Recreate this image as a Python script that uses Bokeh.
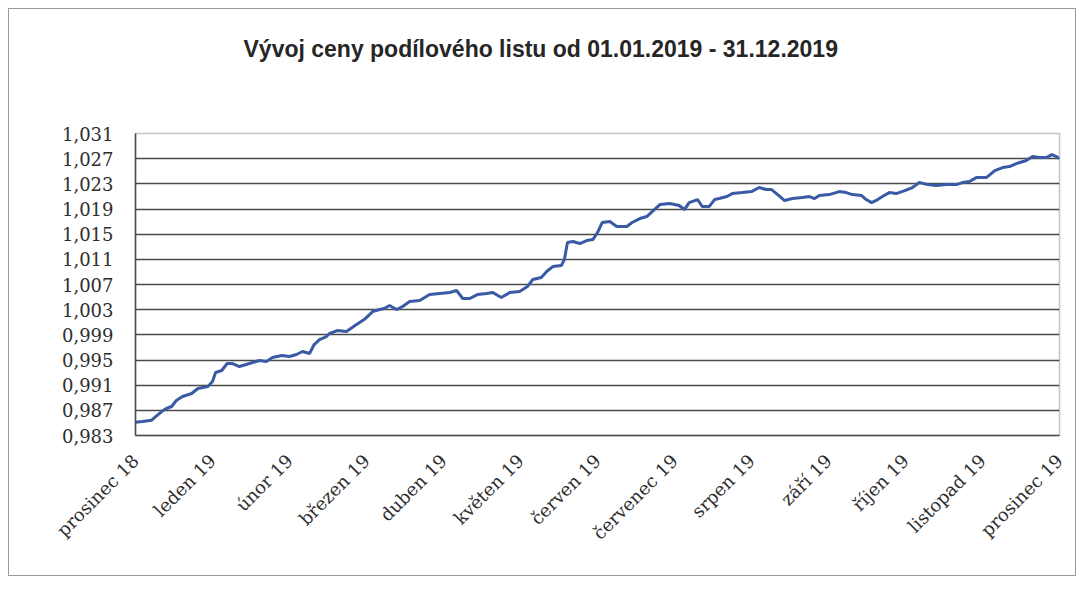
import math
from bokeh.plotting import figure
from bokeh.models import Range1d, FixedTicker, CustomJSTickFormatter, Title
from bokeh.embed import file_html
from bokeh.resources import INLINE

title_text = "Vývoj ceny podílového listu od 01.01.2019  - 31.12.2019"

month_labels = ["prosinec 18", "leden 19", "únor 19", "březen 19", "duben 19",
                "květen 19", "červen 19", "červenec 19", "srpen 19", "září 19",
                "říjen 19", "listopad 19", "prosinec 19"]

y_ticks = [0.983, 0.987, 0.991, 0.995, 0.999, 1.003, 1.007, 1.011,
           1.015, 1.019, 1.023, 1.027, 1.031]

# position along the axis, in months from "prosinec 18"
t = [0.00, 0.09, 0.21, 0.27, 0.34, 0.40, 0.47, 0.53, 0.61, 0.73,
     0.81, 0.94, 1.00, 1.04, 1.12, 1.19, 1.26, 1.35, 1.48, 1.61,
     1.70, 1.78, 1.90, 2.00, 2.09, 2.17, 2.26, 2.32, 2.39, 2.48,
     2.52, 2.62, 2.74, 2.87, 2.97, 3.08, 3.17, 3.23, 3.30, 3.39,
     3.47, 3.56, 3.69, 3.82, 3.95, 4.08, 4.17, 4.25, 4.34, 4.44,
     4.56, 4.64, 4.75, 4.86, 4.99, 5.09, 5.16, 5.27, 5.34, 5.42,
     5.53, 5.57, 5.61, 5.68, 5.77, 5.86, 5.94, 6.00, 6.06, 6.16,
     6.25, 6.38, 6.45, 6.55, 6.64, 6.71, 6.81, 6.94, 7.06, 7.13,
     7.19, 7.30, 7.36, 7.45, 7.52, 7.58, 7.68, 7.75, 7.88, 8.00,
     8.10, 8.19, 8.26, 8.34, 8.43, 8.53, 8.66, 8.75, 8.82, 8.88,
     9.01, 9.14, 9.23, 9.31, 9.43, 9.49, 9.56, 9.64, 9.70, 9.79,
     9.88, 9.99, 10.09, 10.18, 10.29, 10.40, 10.53, 10.66, 10.74, 10.83,
     10.92, 11.05, 11.16, 11.26, 11.35, 11.44, 11.57, 11.65, 11.74, 11.83,
     11.90, 11.96, 12.00]

price = [0.98511, 0.98522, 0.98543, 0.98607, 0.98681, 0.98729, 0.98761, 0.98856, 0.98920, 0.98967,
         0.99047, 0.99079, 0.99158, 0.99301, 0.99333, 0.99444, 0.99444, 0.99396, 0.99444, 0.99492,
         0.99476, 0.99539, 0.99571, 0.99555, 0.99587, 0.99635, 0.99603, 0.99746, 0.99825, 0.99873,
         0.99921, 0.99968, 0.99953, 1.00064, 1.00143, 1.00270, 1.00302, 1.00318, 1.00366, 1.00302,
         1.00350, 1.00429, 1.00445, 1.00540, 1.00556, 1.00572, 1.00604, 1.00477, 1.00477, 1.00540,
         1.00556, 1.00572, 1.00493, 1.00572, 1.00588, 1.00668, 1.00779, 1.00811, 1.00906, 1.00985,
         1.01001, 1.01097, 1.01367, 1.01383, 1.01351, 1.01399, 1.01414, 1.01526, 1.01685, 1.01700,
         1.01621, 1.01621, 1.01685, 1.01748, 1.01780, 1.01859, 1.01971, 1.01986, 1.01955, 1.01891,
         1.02002, 1.02050, 1.01939, 1.01939, 1.02050, 1.02066, 1.02098, 1.02145, 1.02161, 1.02177,
         1.02241, 1.02209, 1.02209, 1.02129, 1.02034, 1.02066, 1.02082, 1.02098, 1.02066, 1.02114,
         1.02129, 1.02177, 1.02161, 1.02129, 1.02114, 1.02050, 1.02002, 1.02050, 1.02098, 1.02161,
         1.02145, 1.02193, 1.02241, 1.02320, 1.02288, 1.02273, 1.02288, 1.02288, 1.02320, 1.02336,
         1.02399, 1.02399, 1.02511, 1.02558, 1.02574, 1.02622, 1.02670, 1.02733, 1.02717, 1.02717,
         1.02765, 1.02733, 1.02701]

p = figure(frame_width=924, frame_height=302,
           min_border_left=126, min_border_right=16,
           min_border_top=124, min_border_bottom=140,
           x_range=Range1d(0, len(month_labels) - 1),
           y_range=Range1d(y_ticks[0], y_ticks[-1]),
           output_backend="svg", toolbar_location=None,
           background_fill_color="white", border_fill_color="white")

p.styles = {"border": "1px solid #9a9a9a", "margin-left": "8px", "margin-top": "8px"}

# empty spacer panel between the frame and the title
p.add_layout(Title(text=" ", text_font_size="10px", standoff=38), "above")

p.title.text = title_text
p.title.align = "left"
p.title.offset = 108
p.title.vertical_align = "middle"
p.title.standoff = 40
p.title.text_font = "Liberation Sans"
p.title.text_font_size = "23px"
p.title.text_font_style = "bold"
p.title.text_color = "#262626"

p.line(t, price, line_color="#3a5aa6", line_width=3)

grid_col = "#4a4a4a"
p.outline_line_color = "#c4c4c4"
p.outline_line_width = 1.5

p.ygrid.ticker = FixedTicker(ticks=y_ticks)
p.ygrid.grid_line_color = grid_col
p.ygrid.grid_line_width = 1.5
p.xgrid.visible = False

p.yaxis.ticker = FixedTicker(ticks=y_ticks)
p.yaxis.formatter = CustomJSTickFormatter(code="return tick.toFixed(3).replace('.', ',');")
p.yaxis.axis_line_color = grid_col
p.yaxis.axis_line_width = 1.5
p.yaxis.major_tick_line_color = None
p.yaxis.minor_tick_line_color = None
p.yaxis.major_tick_out = 0
p.yaxis.major_label_standoff = 22
p.yaxis.major_label_text_font = "DejaVu Serif"
p.yaxis.major_label_text_font_size = "18px"
p.yaxis.major_label_text_color = "#2e2e2e"

p.xaxis.ticker = FixedTicker(ticks=list(range(len(month_labels))))
p.xaxis.major_label_overrides = {i: lab for i, lab in enumerate(month_labels)}
p.xaxis.major_label_orientation = math.pi / 4
p.xaxis.axis_line_color = grid_col
p.xaxis.axis_line_width = 1.5
p.xaxis.major_tick_line_color = None
p.xaxis.minor_tick_line_color = None
p.xaxis.major_tick_out = 0
p.xaxis.major_label_standoff = 22
p.xaxis.major_label_text_font = "DejaVu Serif"
p.xaxis.major_label_text_font_size = "18px"
p.xaxis.major_label_text_color = "#2e2e2e"

open("out.html", "w").write(file_html(p, INLINE))
